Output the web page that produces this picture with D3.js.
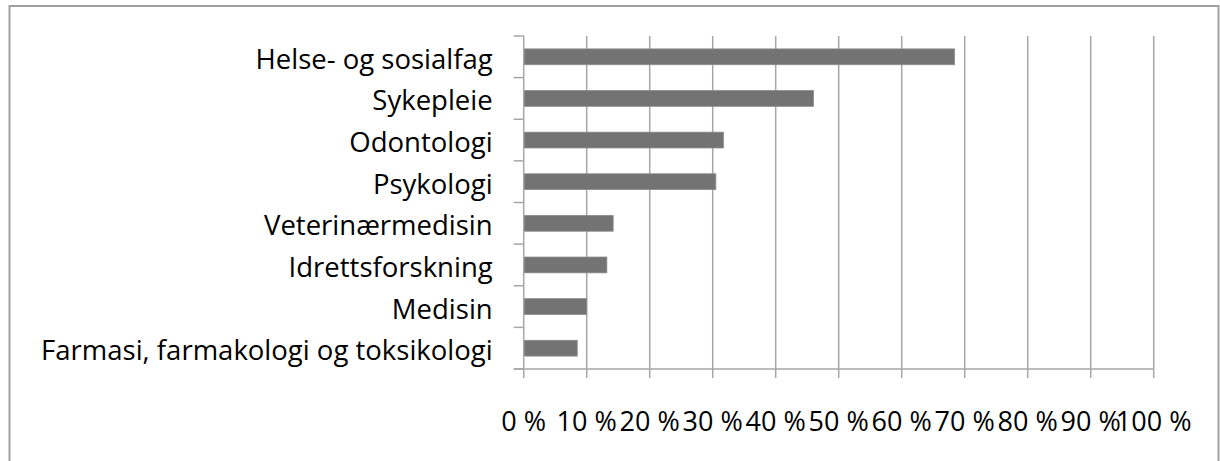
<!DOCTYPE html>
<html>
<head>
<meta charset="utf-8">
<script src="https://cdn.jsdelivr.net/npm/d3@7"></script>
<style>
body { margin: 0; background: #fff; }
#graph { width: 1220px; height: 461px; }
text { font-family: "Open Sans", sans-serif; fill: #000; }
</style>
</head>
<body>
<div id="graph"></div>
<script>
!(function(){
"use strict"
var categories = ["Helse- og sosialfag", "Sykepleie", "Odontologi", "Psykologi",
	"Veterinærmedisin", "Idrettsforskning", "Medisin", "Farmasi, farmakologi og toksikologi"]
var values = [68.4, 46.0, 31.7, 30.5, 14.2, 13.2, 10.0, 8.5]
var tickValues = [0, 10, 20, 30, 40, 50, 60, 70, 80, 90, 100]
var tickLabels = ["0 %", "10 %", "20 %", "30 %", "40 %", "50 %", "60 %", "70 %", "80 %", "90 %", "100 %"]

var width = 1220, height = 461
var gridColor = "#a6a6a6"
var barColor = "#737373"
var svg = d3.select("#graph").append("svg").attr("width", width).attr("height", height)

// outer frame (bottom edge falls outside the picture)
svg.append("rect")
	.attr("x", 9.5).attr("y", 6).attr("width", 1209).attr("height", 470)
	.attr("fill", "none").attr("stroke", "#a0a0a0").attr("stroke-width", 2)

var x = d3.scaleLinear().domain([0, 100]).range([523.7, 1153.7])
var y = d3.scaleBand().domain(categories).range([36, 369]).paddingInner(0.62).paddingOuter(0.31)

var chart = svg.append("g")

// vertical gridlines
chart.append("g").selectAll("line")
	.data(tickValues.slice(1))
	.enter().append("line")
	.attr("x1", function(d){ return x(d) }).attr("x2", function(d){ return x(d) })
	.attr("y1", 36).attr("y2", 369)
	.attr("stroke", gridColor).attr("stroke-width", 1.5)

// bars
chart.append("g").selectAll("rect")
	.data(values)
	.enter().append("rect")
	.attr("x", x(0))
	.attr("y", function(d, i){ return y(categories[i]) })
	.attr("width", function(d){ return x(d) - x(0) })
	.attr("height", y.bandwidth())
	.attr("fill", barColor)
	.attr("stroke", "#8c8c8c").attr("stroke-width", 0.8)

// y axis: line + ticks between categories
var yEdge = d3.scaleLinear().domain([0, categories.length]).range([36, 369])
var yAxis = chart.append("g")
yAxis.append("line")
	.attr("x1", x(0)).attr("x2", x(0)).attr("y1", 36).attr("y2", 369)
	.attr("stroke", gridColor).attr("stroke-width", 1.5)
yAxis.selectAll("line.tick")
	.data(d3.range(0, categories.length + 1))
	.enter().append("line").attr("class", "tick")
	.attr("x1", x(0) - 10).attr("x2", x(0))
	.attr("y1", function(d){ return yEdge(d) }).attr("y2", function(d){ return yEdge(d) })
	.attr("stroke", gridColor).attr("stroke-width", 1.5)
yAxis.selectAll("text")
	.data(categories)
	.enter().append("text")
	.attr("x", x(0) - 31)
	.attr("y", function(d){ return y(d) + y.bandwidth() / 2 + 12 })
	.attr("text-anchor", "end")
	.attr("font-size", 27.5)
	.text(function(d){ return d })

// x axis: line + ticks + labels
var xAxis = chart.append("g")
xAxis.append("line")
	.attr("x1", x(0) - 10).attr("x2", x(100)).attr("y1", 369).attr("y2", 369)
	.attr("stroke", gridColor).attr("stroke-width", 1.5)
xAxis.selectAll("line.tick")
	.data(tickValues)
	.enter().append("line").attr("class", "tick")
	.attr("x1", function(d){ return x(d) }).attr("x2", function(d){ return x(d) })
	.attr("y1", 369).attr("y2", 378)
	.attr("stroke", gridColor).attr("stroke-width", 1.5)
xAxis.selectAll("text")
	.data(tickValues)
	.enter().append("text")
	.attr("x", function(d){ return x(d) })
	.attr("y", 431)
	.attr("text-anchor", "middle")
	.attr("font-size", 27)
	.text(function(d, i){ return tickLabels[i] })
}());
</script>
</body>
</html>
